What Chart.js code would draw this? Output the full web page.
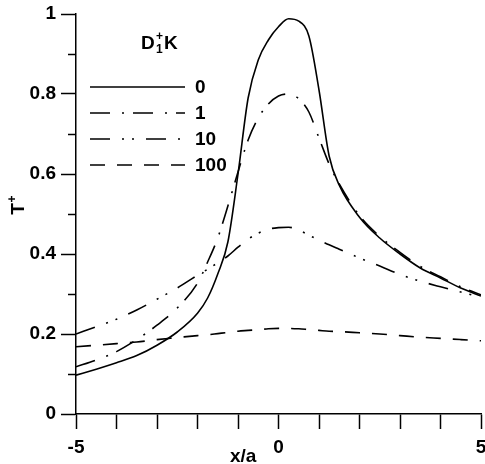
<!DOCTYPE html>
<html>
<head>
<meta charset="utf-8">
<script src="https://cdn.jsdelivr.net/npm/chart.js@4.4.0/dist/chart.umd.min.js"></script>
<style>
  html, body { margin: 0; padding: 0; background: #fff; }
  #wrap { width: 485px; height: 464px; }
</style>
</head>
<body>
<div id="wrap"><canvas id="tChart" width="485" height="464"></canvas></div>
<script>
// Data
const xs = [-5, -4.5, -4, -3.5, -3, -2.5, -2, -1.75, -1.5, -1.25, -1, -0.75, -0.5, -0.25,
            0, 0.25, 0.5, 0.75, 1, 1.25, 1.5, 2, 2.5, 3, 3.5, 4, 4.5, 5];
const t0 = [0.097, 0.112, 0.128, 0.146, 0.172, 0.205, 0.252, 0.29, 0.35, 0.43, 0.60, 0.79, 0.885, 0.935,
            0.968, 0.988, 0.982, 0.945, 0.81, 0.645, 0.572, 0.492, 0.44, 0.40, 0.365, 0.34, 0.315, 0.295];
const t1 = [0.118, 0.135, 0.156, 0.186, 0.222, 0.265, 0.327, 0.38, 0.44, 0.52, 0.605, 0.685, 0.74, 0.775,
            0.795, 0.80, 0.788, 0.755, 0.69, 0.625, 0.575, 0.496, 0.444, 0.404, 0.369, 0.343, 0.318, 0.298];
const t10 = [0.20, 0.218, 0.237, 0.26, 0.287, 0.315, 0.347, 0.362, 0.378, 0.395, 0.417, 0.437, 0.452, 0.462,
             0.466, 0.467, 0.46, 0.447, 0.435, 0.423, 0.412, 0.39, 0.37, 0.349, 0.332, 0.318, 0.305, 0.292];
const t100 = [0.168, 0.172, 0.176, 0.18, 0.186, 0.191, 0.196, 0.198, 0.201, 0.204, 0.207, 0.209, 0.211, 0.213,
              0.214, 0.214, 0.213, 0.211, 0.209, 0.207, 0.206, 0.203, 0.20, 0.196, 0.192, 0.189, 0.186, 0.183];
const seriesLabels = ["0", "1", "10", "100"];
const xTickLabels = [-5, 0, 5];

const FONT = "'Liberation Sans', Arial, sans-serif";
const dashes = [[], [20, 12, 2, 9], [20, 12, 2, 8, 2, 12], [15, 12]];

function pts(ys) {
  return xs.map((x, i) => ({ x: x, y: ys[i] }));
}

const allSeries = [t0, t1, t10, t100];
const datasets = allSeries.map((s, i) => ({
  label: seriesLabels[i],
  data: pts(s),
  borderColor: "#000",
  borderWidth: 1.6,
  borderDash: dashes[i],
  pointRadius: 0,
  fill: false,
  cubicInterpolationMode: "monotone",
}));

// legend, axis titles and minor ticks
const decor = {
  id: "decor",
  afterDraw(chart) {
    const ctx = chart.ctx;
    const ys = chart.scales.y;
    const xa = chart.chartArea;
    ctx.save();
    // minor y ticks
    ctx.strokeStyle = "#000";
    ctx.lineWidth = 1.5;
    for (let v = 0.1; v < 1; v += 0.2) {
      const py = Math.round(ys.getPixelForValue(v)) + 0.5;
      ctx.beginPath();
      ctx.moveTo(xa.left - 8, py);
      ctx.lineTo(xa.left, py);
      ctx.stroke();
    }
    // legend
    ctx.fillStyle = "#000";
    ctx.font = "bold 19px " + FONT;
    ctx.textBaseline = "middle";
    const rows = [87, 113, 139, 165];
    rows.forEach((ry, i) => {
      ctx.setLineDash(dashes[i]);
      ctx.lineWidth = 1.6;
      ctx.beginPath();
      ctx.moveTo(90, ry);
      ctx.lineTo(185, ry);
      ctx.stroke();
      ctx.setLineDash([]);
      ctx.fillText(seriesLabels[i], 195, ry + 1);
    });
    // legend title D1+K
    ctx.textBaseline = "alphabetic";
    ctx.font = "bold 19px " + FONT;
    ctx.fillText("D", 141, 49);
    ctx.font = "bold 12px " + FONT;
    ctx.fillText("+", 156, 40);
    ctx.fillText("1", 156, 53);
    ctx.font = "bold 19px " + FONT;
    ctx.fillText("K", 164, 49);
    // x title
    ctx.fillText("x/a", 230, 462);
    // y title
    ctx.translate(24, 209);
    ctx.rotate(-Math.PI / 2);
    ctx.textAlign = "center";
    ctx.fillText("T", 0, 0);
    ctx.font = "bold 12px " + FONT;
    ctx.fillText("+", 10, -8);
    ctx.restore();
  },
};

const config = {
  type: "line",
  data: { datasets: datasets },
  options: {
    responsive: false,
    animation: false,
    layout: { padding: { left: 0, right: 4, top: 14, bottom: 0 } },
    plugins: { legend: { display: false }, tooltip: { enabled: false } },
    scales: {
      x: {
        type: "linear",
        min: -5,
        max: 5,
        afterFit(scale) {
          scale.height = 50;
          scale.paddingLeft = 0;
          scale.paddingRight = 0;
        },
        border: { display: true, color: "#000", width: 1.5 },
        grid: { drawOnChartArea: false, tickLength: 15, color: "#000", tickWidth: 1.5 },
        ticks: {
          stepSize: 1,
          padding: 7,
          color: "#000",
          font: { family: FONT, size: 19, weight: "bold" },
          maxRotation: 0,
          autoSkip: false,
          callback: (v) => (xTickLabels.includes(v) ? String(v) : ""),
        },
      },
      y: {
        type: "linear",
        min: 0,
        max: 1,
        afterFit(scale) {
          scale.width = 76;
          scale.paddingTop = 0;
          scale.paddingBottom = 0;
        },
        border: { display: true, color: "#000", width: 1.5 },
        grid: { drawOnChartArea: false, tickLength: 15, color: "#000", tickWidth: 1.5 },
        ticks: {
          stepSize: 0.2,
          padding: 5,
          color: "#000",
          font: { family: FONT, size: 19, weight: "bold" },
          callback: (v) => String(Math.round(v * 10) / 10),
        },
      },
    },
  },
  plugins: [decor],
};

const tChart = new Chart(document.getElementById("tChart"), config);
</script>
</body>
</html>
